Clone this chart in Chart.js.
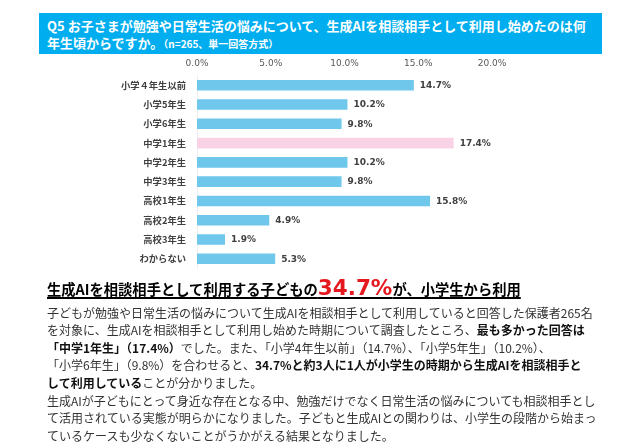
<!DOCTYPE html>
<html><head><meta charset="utf-8">
<script src="https://cdn.jsdelivr.net/npm/chart.js@4.4.1/dist/chart.umd.min.js"></script>
<style>
html,body{margin:0;padding:0;background:#fff;width:640px;height:448px;overflow:hidden;font-family:"Noto Sans CJK JP","Noto Sans",sans-serif;}
#hdr{position:absolute;left:39px;top:13px;width:563px;height:41px;background:#00AEEF;color:#fff;font-weight:bold;}
#hdr .l{position:absolute;left:8px;white-space:nowrap;font-size:13px;line-height:16px;}
#hdr small{font-size:10px;}
#cv{position:absolute;left:0;top:55px;}
#head{position:absolute;left:47px;top:274px;white-space:nowrap;font-weight:bold;font-size:14.3px;line-height:28px;color:#000;text-decoration:underline;text-decoration-thickness:1.5px;text-underline-offset:2px;}
#head .big{font-family:"DejaVu Sans",sans-serif;font-size:21.5px;color:#E3191F;}
.p{position:absolute;left:47px;white-space:nowrap;font-size:12px;line-height:17.4px;color:#333;}
.p b{color:#111;}
</style></head><body>
<div id="hdr"><div class="l" style="top:5px">Q5 お子さまが勉強や日常生活の悩みについて、生成AIを相談相手として利用し始めたのは何</div><div class="l" style="top:22px">年生頃からですか。<small>（n=265、単一回答方式）</small></div></div>
<canvas id="cv" width="640" height="230"></canvas>
<div id="head">生成AIを相談相手として利用する子どもの<span class="big">34.7%</span>が、小学生から利用</div>
<div class="p" style="top:304px">子どもが勉強や日常生活の悩みについて生成AIを相談相手として利用していると回答した保護者265名<br>を対象に、生成AIを相談相手として利用し始めた時期について調査したところ、<b>最も多かった回答は</b><br><b>「中学1年生」（17.4%）</b>でした。また、「小学4年生以前」（14.7%）、「小学5年生」（10.2%）、<br>「小学6年生」（9.8%）を合わせると、<b>34.7%と約3人に1人が小学生の時期から生成AIを相談相手と</b><br><b>して利用している</b>ことが分かりました。</div>
<div class="p" style="top:392px">生成AIが子どもにとって身近な存在となる中、勉強だけでなく日常生活の悩みについても相談相手とし<br>て活用されている実態が明らかになりました。子どもと生成AIとの関わりは、小学生の段階から始まっ<br>ているケースも少なくないことがうかがえる結果となりました。</div>
<script>
const categories = ["小学４年生以前","小学5年生","小学6年生","中学1年生","中学2年生","中学3年生","高校1年生","高校2年生","高校3年生","わからない"];
const values = [14.7, 10.2, 9.8, 17.4, 10.2, 9.8, 15.8, 4.9, 1.9, 5.3];
const highlightIndex = 3;
const tickValues = [0, 5, 10, 15, 20];

const barColors = values.map((v,i)=> i===highlightIndex ? "#F9D3E5" : "#6FC7EB");

const labelPlugin = {
  id: "valLabels",
  afterDatasetsDraw(chart){
    const ctx = chart.ctx;
    const meta = chart.getDatasetMeta(0);
    ctx.save();
    ctx.font = "bold 9px 'DejaVu Sans', sans-serif";
    ctx.fillStyle = "#404040";
    ctx.textBaseline = "middle";
    ctx.textAlign = "left";
    meta.data.forEach((bar,i)=>{
      ctx.fillText(values[i].toFixed(1)+"%", bar.x + 6, bar.y + 0.5);
    });
    ctx.restore();
  }
};

new Chart(document.getElementById("cv"), {
  type: "bar",
  data: { labels: categories, datasets: [{ data: values, backgroundColor: barColors, borderWidth: 0, barPercentage: 0.55, categoryPercentage: 1.0 }] },
  options: {
    indexAxis: "y",
    responsive: false,
    animation: false,
    devicePixelRatio: 1,
    layout: { padding: { top: 0, left: 0, right: 148, bottom: 5 } },
    plugins: { legend: { display: false }, tooltip: { enabled: false } },
    scales: {
      x: {
        position: "top", min: 0, max: 20,
        afterFit(s){ s.height = 20.6; },
        afterBuildTicks(s){ s.ticks = tickValues.map(v=>({value:v})); },
        grid: { display: false, drawTicks: false },
        border: { display: false },
        ticks: { padding: 7, color: "#595959", font: { family: "'DejaVu Sans', sans-serif", size: 9 }, callback: v => Number(v).toFixed(1) + "%" }
      },
      y: {
        afterFit(s){ s.width = 197; },
        grid: { display: false, drawTicks: false },
        border: { display: true, color: "#EDEDED", width: 1 },
        ticks: { padding: 11, color: "#404040", font: { family: "'Noto Sans CJK JP', sans-serif", size: 9.3, weight: "bold" } }
      }
    }
  },
  plugins: [labelPlugin]
});
</script>
</body></html>
